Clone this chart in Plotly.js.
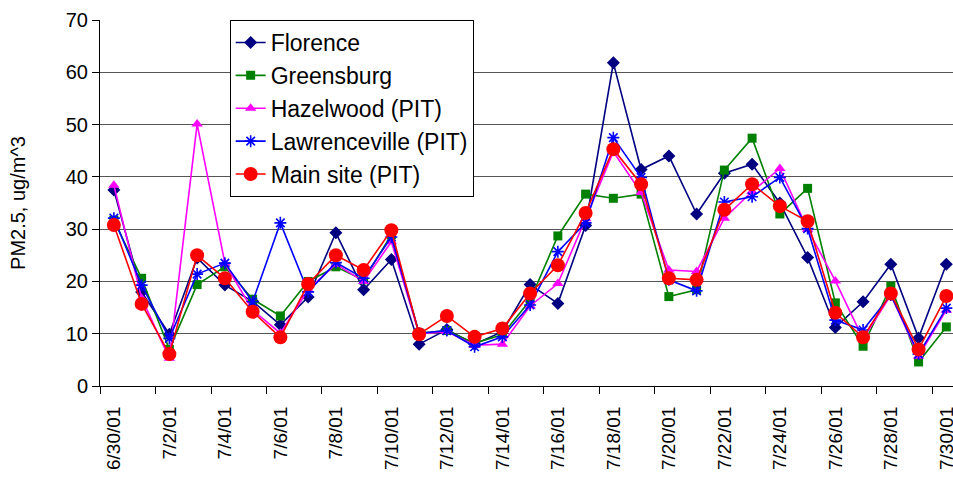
<!DOCTYPE html>
<html>
<head>
<meta charset="utf-8">
<script src="https://cdn.plot.ly/plotly-3.0.1.min.js"></script>
<style>
  html, body { margin: 0; padding: 0; background: #fff; }
  #chart { width: 953px; height: 482px; }
</style>
</head>
<body>
<div id="chart"></div>
<script>
// Daily sampling dates
const dates = [
  "6/30/01", "7/1/01", "7/2/01", "7/3/01", "7/4/01", "7/5/01", "7/6/01", "7/7/01",
  "7/8/01", "7/9/01", "7/10/01", "7/11/01", "7/12/01", "7/13/01", "7/14/01", "7/15/01",
  "7/16/01", "7/17/01", "7/18/01", "7/19/01", "7/20/01", "7/21/01", "7/22/01", "7/23/01",
  "7/24/01", "7/25/01", "7/26/01", "7/27/01", "7/28/01", "7/29/01", "7/30/01"
];

// PM2.5 concentrations (ug/m^3) per site
const florence = [37.5, 18.0, 9.9, 24.5, 19.3, 16.2, 11.7, 17.0, 29.3, 18.4, 24.2, 8.0, 10.8, 8.0, 10.4, 19.4,
                  15.8, 30.7, 61.8, 41.4, 44.0, 32.9, 40.7, 42.4, 35.0, 24.6, 11.2, 16.1, 23.3, 9.2, 23.3];
const greensburg = [31.7, 20.6, 7.0, 19.4, 22.8, 16.6, 13.4, 20.0, 22.8, 20.3, 28.9, 10.1, 10.6, 8.2, 9.8, 16.4,
                    28.7, 36.7, 35.9, 36.7, 17.1, 18.4, 41.3, 47.4, 32.9, 37.8, 15.9, 7.6, 19.1, 4.6, 11.3];
const hazelwood = [38.4, 16.8, 5.3, 50.1, 23.5, 14.5, 10.1, 18.4, 23.3, 20.0, 27.6, 10.0, 10.4, 7.8, 8.0, 15.3,
                   19.6, 32.0, 44.8, 37.0, 22.2, 21.9, 32.1, 37.2, 41.6, 30.0, 20.1, 9.0, 17.4, 5.7, 14.5];
const lawrenceville = [32.1, 19.3, 9.1, 21.4, 23.5, 16.1, 31.2, 18.0, 23.6, 20.6, 28.5, 10.1, 10.6, 7.5, 9.4, 15.5,
                       25.7, 31.2, 47.5, 39.9, 20.3, 18.2, 35.2, 36.2, 39.9, 30.1, 12.6, 10.7, 17.4, 6.1, 14.9];
const mainSite = [30.8, 15.7, 6.1, 25.0, 20.6, 14.2, 9.3, 19.5, 25.0, 22.2, 29.8, 9.9, 13.4, 9.4, 11.0, 17.7,
                  23.1, 33.1, 45.3, 38.6, 20.6, 20.3, 33.7, 38.6, 34.4, 31.5, 14.0, 9.3, 17.7, 7.0, 17.2];

const seriesNames = ["Florence", "Greensburg", "Hazelwood (PIT)", "Lawrenceville (PIT)", "Main site (PIT)"];

const FONT = "Liberation Sans, Arial, sans-serif";

function series(name, y, color, symbol, size) {
  return {
    type: "scatter",
    mode: "lines+markers",
    name: name,
    legendgroup: name,
    x: dates,
    y: y,
    cliponaxis: false,
    line: { color: color, width: 1.6 },
    marker: { color: color, symbol: symbol, size: size,
              line: { color: color, width: symbol === "asterisk-open" ? 1.6 : 0 } }
  };
}

const traces = [
  series(seriesNames[0], florence, "#000080", "diamond", 10),
  series(seriesNames[1], greensburg, "#008000", "square", 9),
  series(seriesNames[2], hazelwood, "#FF00FF", "triangle-up", 10),
  series(seriesNames[3], lawrenceville, "#0000FF", "asterisk-open", 10),
  series(seriesNames[4], mainSite, "#FF0000", "circle", 14)
];

const layout = {
  width: 953,
  height: 482,
  margin: { l: 100, r: 0, t: 20, b: 96, pad: 0 },
  paper_bgcolor: "#ffffff",
  plot_bgcolor: "#ffffff",
  font: { family: FONT, size: 19, color: "#000000" },
  showlegend: true,
  legend: {
    x: 0.152, y: 1.0, xanchor: "left", yanchor: "top",
    bgcolor: "#ffffff", bordercolor: "#000000", borderwidth: 1,
    font: { family: FONT, size: 23, color: "#000000" },
    traceorder: "grouped", tracegroupgap: 0
  },
  xaxis: {
    type: "category",
    range: [-0.5, 30.24],
    tickmode: "linear", dtick: 2, tick0: 0,
    tickson: "boundaries",
    ticks: "outside", ticklen: 7, tickwidth: 1, tickcolor: "#000000",
    tickangle: -90,
    ticklabelstandoff: 12,
    showline: true, linecolor: "#000000", linewidth: 1,
    showgrid: false, zeroline: false,
    tickfont: { family: FONT, size: 19, color: "#000000" },
    fixedrange: true
  },
  yaxis: {
    range: [0, 70],
    tickmode: "linear", dtick: 10, tick0: 0,
    ticks: "outside", ticklen: 7, tickwidth: 1, tickcolor: "#000000",
    showline: true, linecolor: "#000000", linewidth: 1,
    showgrid: true, gridcolor: "#555555", gridwidth: 1,
    zeroline: false,
    tickfont: { family: FONT, size: 20, color: "#000000" },
    title: { text: "PM2.5, ug/m^3", font: { family: FONT, size: 20, color: "#000000" }, standoff: 34 },
    fixedrange: true
  }
};

Plotly.newPlot("chart", traces, layout, { staticPlot: true, displayModeBar: false });
</script>
</body>
</html>
